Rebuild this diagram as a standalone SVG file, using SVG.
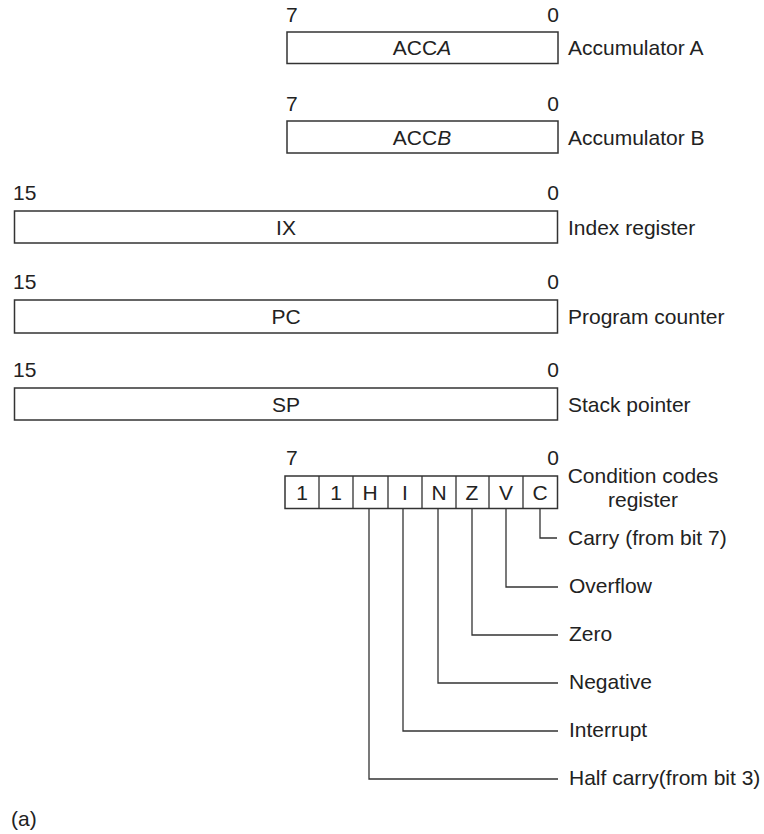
<svg xmlns="http://www.w3.org/2000/svg" width="764" height="834" viewBox="0 0 764 834">
<style>
text{font-family:"Liberation Sans",Arial,sans-serif;font-size:21px;fill:#222}
.m{text-anchor:middle}
.e{text-anchor:end}
.box{fill:#fff;stroke:#333;stroke-width:1.5}
.ln{fill:none;stroke:#333;stroke-width:1.3}
</style>
<rect width="764" height="834" fill="#fff"/>
<g id="accA">
<text x="286" y="22">7</text><text class="e" x="559" y="22">0</text>
<rect class="box" x="287" y="32" width="271" height="31.5"/>
<text class="m" x="422" y="55">ACC<tspan font-style="italic">A</tspan></text>
<text x="568" y="55">Accumulator A</text>
</g>
<g id="accB">
<text x="286" y="111">7</text><text class="e" x="559" y="111">0</text>
<rect class="box" x="287" y="121" width="271" height="32"/>
<text class="m" x="422" y="145">ACC<tspan font-style="italic">B</tspan></text>
<text x="568" y="145">Accumulator B</text>
</g>
<g id="ix">
<text x="13" y="200">15</text><text class="e" x="559" y="200">0</text>
<rect class="box" x="14.5" y="211" width="543" height="32"/>
<text class="m" x="286" y="235">IX</text>
<text x="568" y="235">Index register</text>
</g>
<g id="pc">
<text x="13" y="289">15</text><text class="e" x="559" y="289">0</text>
<rect class="box" x="14.5" y="300" width="543" height="33"/>
<text class="m" x="286" y="324">PC</text>
<text x="568" y="324">Program counter</text>
</g>
<g id="sp">
<text x="13" y="377">15</text><text class="e" x="559" y="377">0</text>
<rect class="box" x="14.5" y="388" width="543" height="32"/>
<text class="m" x="286" y="412">SP</text>
<text x="568" y="412">Stack pointer</text>
</g>
<g id="ccr">
<text x="286" y="465">7</text><text class="e" x="559" y="465">0</text>
<rect class="box" x="285" y="476" width="272.5" height="32.5"/>
<path class="ln" d="M319 476V509M353 476V509M388 476V509M422 476V509M456 476V509M489 476V509M523 476V509"/>
<text class="m" x="302" y="500">1</text>
<text class="m" x="336" y="500">1</text>
<text class="m" x="370" y="500">H</text>
<text class="m" x="405" y="500">I</text>
<text class="m" x="439" y="500">N</text>
<text class="m" x="472" y="500">Z</text>
<text class="m" x="506" y="500">V</text>
<text class="m" x="540" y="500">C</text>
<text class="m" x="643" y="483">Condition codes</text>
<text class="m" x="643" y="507">register</text>
</g>
<g id="connectors">
<path class="ln" d="M540 509V538H557"/>
<path class="ln" d="M506 509V587H558"/>
<path class="ln" d="M472 509V635H558"/>
<path class="ln" d="M438 509V683H558"/>
<path class="ln" d="M403 509V731H558"/>
<path class="ln" d="M369 509V779H558"/>
</g>
<g id="flags">
<text x="568" y="545">Carry (from bit 7)</text>
<text x="569" y="593">Overflow</text>
<text x="569" y="641">Zero</text>
<text x="569" y="689">Negative</text>
<text x="569" y="737">Interrupt</text>
<text x="569" y="785">Half carry(from bit 3)</text>
</g>
<text x="11" y="826">(a)</text>
</svg>
